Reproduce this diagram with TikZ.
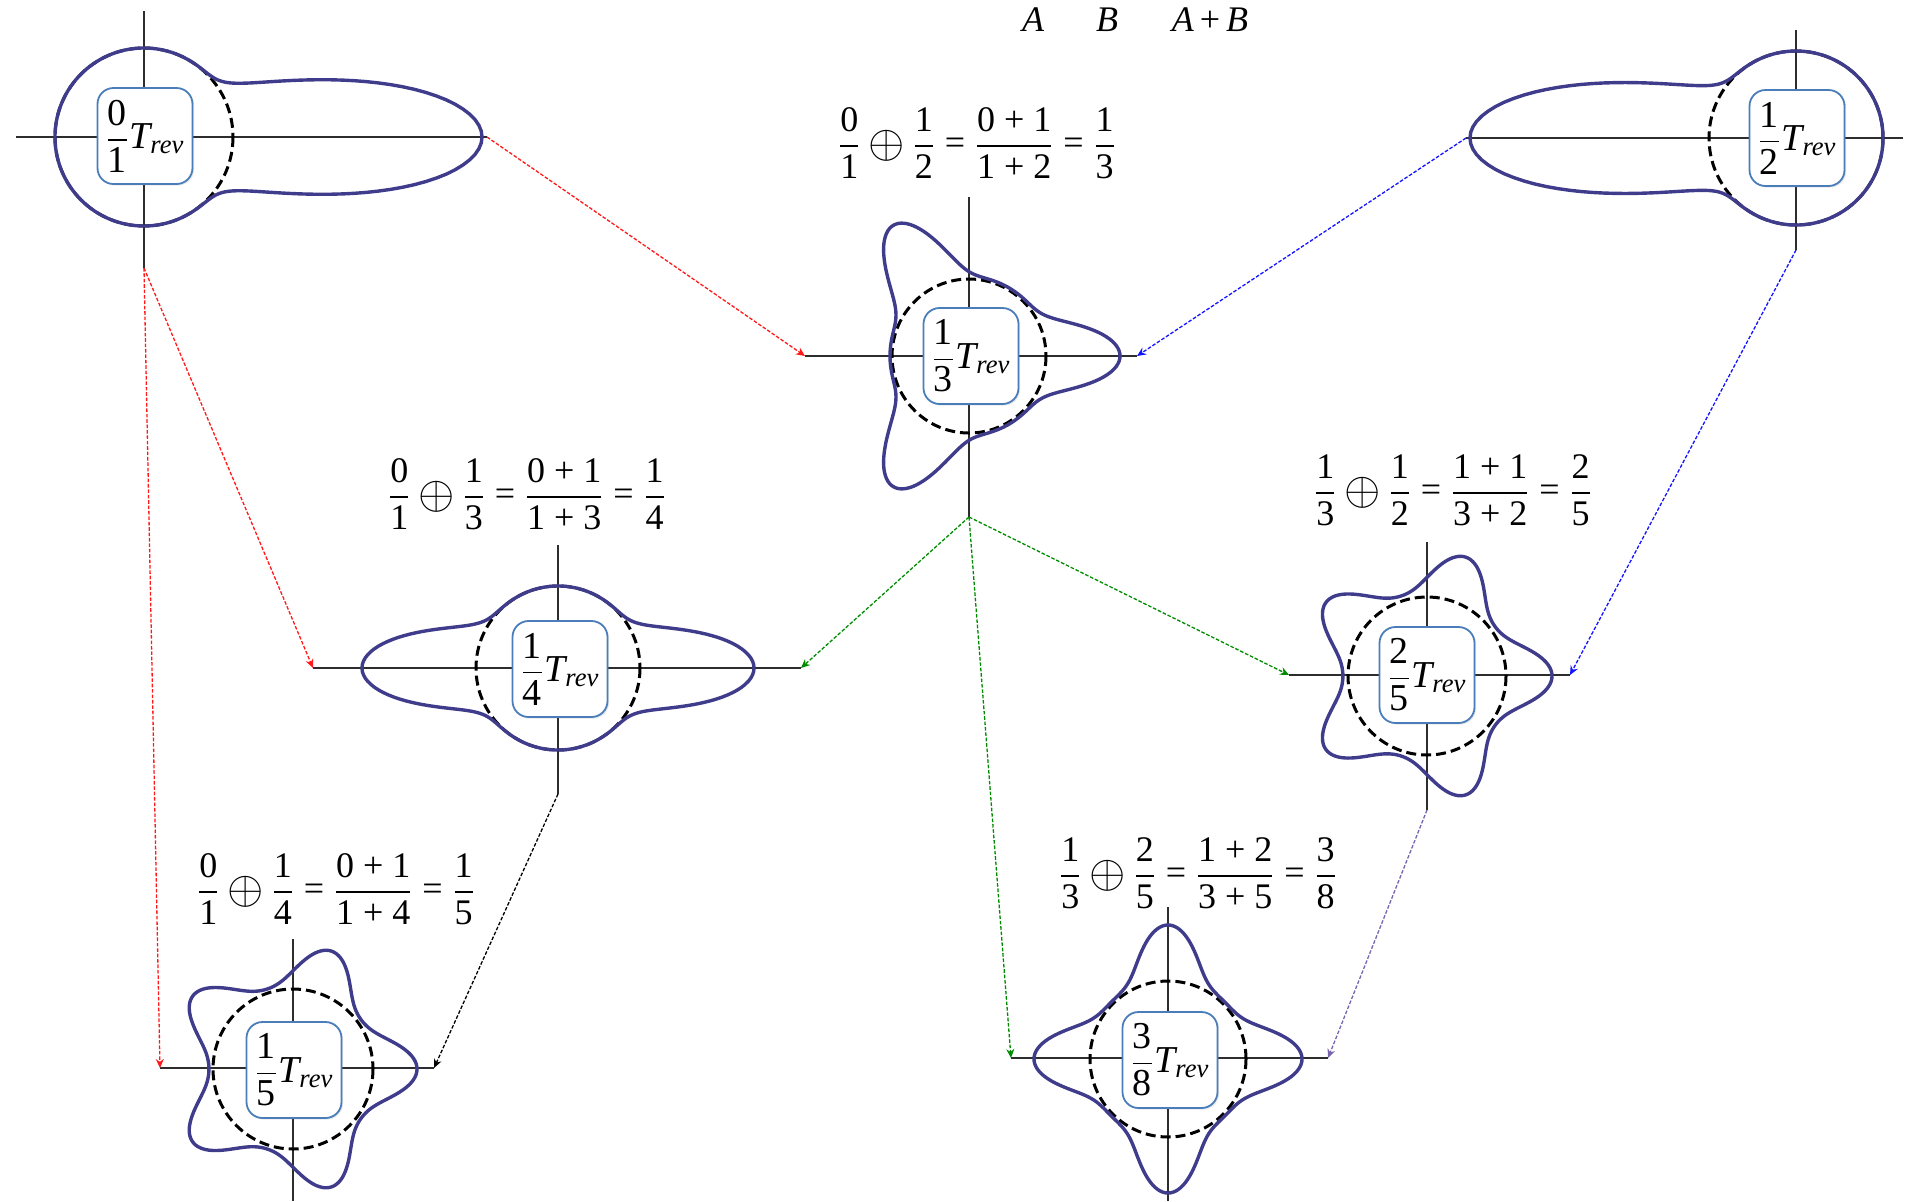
\documentclass[tikz,border=0pt]{standalone}
\usepackage{amsmath}
\usepackage{fontspec}
\setmainfont{Liberation Serif}
\usetikzlibrary{arrows.meta,shadows}
\definecolor{blobc}{RGB}{64,60,140}
\definecolor{boxc}{RGB}{74,126,187}
\definecolor{axc}{RGB}{45,45,45}
\definecolor{cred}{RGB}{255,25,25}
\definecolor{cblue}{RGB}{20,20,255}
\definecolor{cgreen}{RGB}{0,140,0}
\definecolor{cpurp}{RGB}{120,100,170}
\newcommand\myblob[5]{\draw[blobline] plot[domain=0:360,samples=361,variable=\t] ({#1+(#3+#4*(#5))*cos(\t)},{#2-(#3+#4*(#5))*sin(\t)}) -- cycle;}
\newcommand\fr[2]{\dfrac{\text{#1}}{\text{#2}}}
\newcommand\eqs{\mathrel{\text{=}}}
\newcommand\op{\mathbin{\vcenter{\hbox{\scalebox{1.35}{$\oplus$}}}}}
\newcommand\trev{\text{\itshape T}_{\text{\itshape rev}}}
\begin{document}
\begin{tikzpicture}[x=0.5pt,y=-0.5pt,
  declare function={L(\a,\b)=exp(19.4*(cos(\a-\b)-1));},
  axis/.style={line width=0.75pt, draw=axc},
  blobline/.style={line width=1.7pt, draw=blobc, line join=round},
  ring/.style={line width=1.5pt, dash pattern=on 5pt off 2.5pt},
  lbl/.style={draw=boxc, line width=0.9pt, fill=white, rounded corners=8pt, minimum width=47.5pt, minimum height=48pt, inner sep=0pt, font=\fontsize{19}{22}\selectfont, drop shadow={opacity=0.18,shadow xshift=0.8pt,shadow yshift=-0.8pt}},
  eq/.style={font=\fontsize{18}{21}\selectfont, inner sep=0pt},
  conn/.style={line width=0.65pt, dash pattern=on 1.8pt off 0.9pt, -{Stealth[length=4.5pt,width=4pt]}},
]
\useasboundingbox (0,0) rectangle (1915,1201);
% axis end coordinates
\coordinate (a1t) at (144,11);   \coordinate (a1b) at (144,268);  \coordinate (a1l) at (16,137);   \coordinate (a1r) at (487,137);
\coordinate (a2t) at (1796,30);  \coordinate (a2b) at (1796,250); \coordinate (a2l) at (1466,138); \coordinate (a2r) at (1903,138);
\coordinate (a3t) at (969,197);  \coordinate (a3b) at (969,517);  \coordinate (a3l) at (805,356);  \coordinate (a3r) at (1137,356);
\coordinate (a4t) at (558,545);  \coordinate (a4b) at (558,794);  \coordinate (a4l) at (313,668);  \coordinate (a4r) at (801,668);
\coordinate (a5t) at (293,939);  \coordinate (a5b) at (293,1201); \coordinate (a5l) at (160,1068); \coordinate (a5r) at (434,1068);
\coordinate (a6t) at (1427,542); \coordinate (a6b) at (1427,810); \coordinate (a6l) at (1289,675); \coordinate (a6r) at (1570,675);
\coordinate (a7t) at (1168,907); \coordinate (a7b) at (1168,1201);\coordinate (a7l) at (1011,1058); \coordinate (a7r) at (1328,1058);
% axes
\foreach \i in {1,...,7}{\draw[axis] (a\i t) -- (a\i b); \draw[axis] (a\i l) -- (a\i r);}
% dashed circles
\draw[ring] (144,137) circle[radius=89];
\draw[ring] (1796,138) circle[radius=87];
\draw[ring] (969,356) circle[radius=77];
\draw[ring] (558,668) circle[radius=82];
\draw[ring] (293,1069) circle[radius=80];
\draw[ring] (1427,676) circle[radius=79];
\draw[ring] (1168,1059) circle[radius=78];
% blobs
\myblob{144}{137}{89}{249}{L(\t,0)}
\myblob{1796}{138}{87}{239}{L(\t,180)}
\myblob{969}{356}{79}{72}{L(\t,0)+L(\t,120)+L(\t,240)}
\myblob{558}{668}{82}{114}{L(\t,0)+L(\t,180)}
\myblob{293}{1069}{82}{42}{L(\t,0)+L(\t,72)+L(\t,144)+L(\t,216)+L(\t,288)}
\myblob{1427}{676}{82}{43}{L(\t,0)+L(\t,72)+L(\t,144)+L(\t,216)+L(\t,288)}
\myblob{1168}{1059}{80}{54}{L(\t,0)+L(\t,90)+L(\t,180)+L(\t,270)}
% label boxes
\node[lbl] (b01) at (145,136) {$\fr{0}{1}\trev$};
\node[lbl] (b12) at (1797,138) {$\fr{1}{2}\trev$};
\node[lbl] (b13) at (971,356) {$\fr{1}{3}\trev$};
\node[lbl] (b14) at (560,669) {$\fr{1}{4}\trev$};
\node[lbl] (b15) at (294,1070) {$\fr{1}{5}\trev$};
\node[lbl] (b25) at (1427,675) {$\fr{2}{5}\trev$};
\node[lbl] (b38) at (1170,1060) {$\fr{3}{8}\trev$};
% equations
\node[eq] (e13) at (977,143) {$\fr{0}{1}\op\fr{1}{2}\eqs\fr{0 + 1}{1 + 2}\eqs\fr{1}{3}$};
\node[eq] (e14) at (527,494) {$\fr{0}{1}\op\fr{1}{3}\eqs\fr{0 + 1}{1 + 3}\eqs\fr{1}{4}$};
\node[eq] (e25) at (1453,490) {$\fr{1}{3}\op\fr{1}{2}\eqs\fr{1 + 1}{3 + 2}\eqs\fr{2}{5}$};
\node[eq] (e15) at (336,889) {$\fr{0}{1}\op\fr{1}{4}\eqs\fr{0 + 1}{1 + 4}\eqs\fr{1}{5}$};
\node[eq] (e38) at (1198,873) {$\fr{1}{3}\op\fr{2}{5}\eqs\fr{1 + 2}{3 + 5}\eqs\fr{3}{8}$};
% top partial text
\node[eq, anchor=base] (tA) at (1033,31) {\itshape A};
\node[eq, anchor=base] (tB) at (1107,31) {\itshape B};
\node[eq, anchor=base] (tAB) at (1210,31) {\itshape A\,\upshape+\,\itshape B};
% connectors
\draw[conn, cred] (a1r) -- (a3l);
\draw[conn, cred] (a1b) -- (a4l);
\draw[conn, cred] (a1b) -- (a5l);
\draw[conn, cblue] (a2l) -- (a3r);
\draw[conn, cblue] (a2b) -- (a6r);
\draw[conn, cgreen] (a3b) -- (a4r);
\draw[conn, cgreen] (a3b) -- (a6l);
\draw[conn, cgreen] (a3b) -- (a7l);
\draw[conn, black] (a4b) -- (a5r);
\draw[conn, cpurp] (a6b) -- (a7r);
\end{tikzpicture}
\end{document}
